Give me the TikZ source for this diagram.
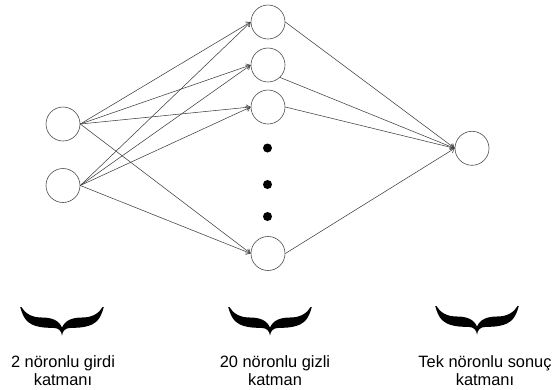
\documentclass[tikz,border=0pt]{standalone}
\usepackage{fontspec}
\setmainfont{Liberation Sans}
\usetikzlibrary{arrows.meta}
\tikzset{
  neuron/.style={circle, draw=black!70, line width=0.6pt, minimum size=34pt, inner sep=0pt},
  dotnode/.style={circle, fill=black, minimum size=9pt, inner sep=0pt},
  conn/.style={draw=black!75, line width=0.55pt, -{Straight Barb[length=4pt,width=5.5pt]}},
  lbl/.style={font=\fontsize{16.4}{18.5}\selectfont, inner sep=0pt, anchor=base, align=center},
  mbrace/.pic={
    \fill[black] (0,27.5) .. controls (-0.6,23) and (-3,20) .. (-9,19.8)
      .. controls (-22,20) and (-33,18) .. (-38,9)
      .. controls (-40,5) and (-41,2) .. (-41.8,-1) -- (-40.6,-1)
      .. controls (-37,5) and (-31,9.5) .. (-20,9.5)
      .. controls (-10,9.5) and (-3,12.5) .. (0,19.5)
      .. controls (3,12.5) and (10,9.5) .. (20,9.5)
      .. controls (31,9.5) and (37,5) .. (40.6,-1) -- (41.8,-1)
      .. controls (41,2) and (40,5) .. (38,9)
      .. controls (33,18) and (22,20) .. (9,19.8)
      .. controls (3,20) and (0.6,23) .. (0,27.5) -- cycle;
  }
}
\begin{document}
\begin{tikzpicture}[x=1pt,y=-1pt]
\useasboundingbox (0,0) rectangle (559,389);
% input layer
\node[neuron] (i1) at (63,124) {};
\node[neuron] (i2) at (63,185.5) {};
% hidden layer
\node[neuron] (h1) at (268,22) {};
\node[neuron] (h2) at (268,65) {};
\node[neuron] (h3) at (268,107) {};
\node[neuron] (h4) at (268,253.5) {};
\node[dotnode] (d1) at (267.5,148) {};
\node[dotnode] (d2) at (267.5,184.5) {};
\node[dotnode] (d3) at (267.5,216.5) {};
% output
\node[neuron] (o) at (472,148.3) {};
% connections input -> hidden
\foreach \i in {i1,i2}{
  \foreach \h in {h1,h2,h3,h4}{
    \draw[conn] (\i.east) -- (\h.west);
  }
}
% hidden -> output
\draw[conn] (h1.east) -- (o.west);
\draw[conn] (h2.-46) -- (o.west);
\draw[conn] (h3.east) -- (o.west);
\draw[conn] (h4.east) -- (o.west);
% braces
\pic at (62,308) {mbrace};
\pic at (270,308) {mbrace};
\pic at (477,307) {mbrace};
% labels
\node[lbl] (t1) at (63,385.5) {2 nöronlu girdi\\katmanı};
\node[lbl] (t2) at (275,385.5) {20 nöronlu gizli\\katman};
\node[lbl] (t3) at (485,385.5) {Tek nöronlu sonuç\\katmanı};
\end{tikzpicture}
\end{document}
